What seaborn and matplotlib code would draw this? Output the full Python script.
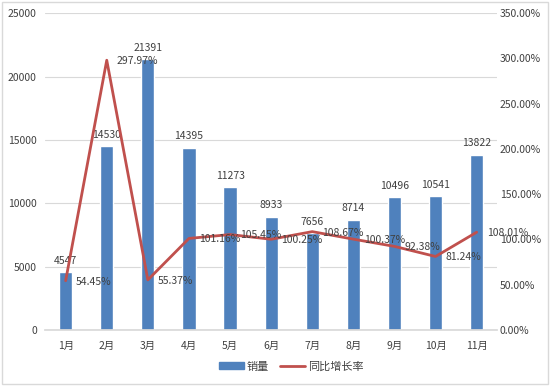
import seaborn as sns
import matplotlib.pyplot as plt
import matplotlib.patches as mpatches
import matplotlib.lines as mlines
from matplotlib.ticker import FuncFormatter
import numpy as np
import pandas as pd

# data
months = ["1月", "2月", "3月", "4月", "5月", "6月", "7月", "8月", "9月", "10月", "11月"]
sales = [4547, 14530, 21391, 14395, 11273, 8933, 7656, 8714, 10496, 10541, 13822]
growth = [54.45, 297.97, 55.37, 101.16, 105.45, 100.25, 108.67, 100.37, 92.38, 81.24, 108.01]

bar_color = "#4F81BD"
line_color = "#C0504D"

sns.set_theme(style="white")
plt.rcParams["font.family"] = ["Noto Sans CJK SC", "DejaVu Sans"]
plt.rcParams["font.size"] = 7.5

df = pd.DataFrame({"month": months, "sales": sales, "growth": growth})
df["pos"] = np.arange(len(df))

fig = plt.figure(figsize=(5.5, 3.86), dpi=100)
ax = fig.add_axes([0.082, 0.145, 0.822, 0.821])

sns.barplot(data=df, x="month", y="sales", color=bar_color, width=0.32,
            saturation=1, ax=ax)
ax.set_ylim(0, 25000)
ax.set_yticks(range(0, 25001, 5000))
ax.set_xlim(-0.5, len(months) - 0.5)
ax.set_xlabel("")
ax.set_ylabel("")
ax.yaxis.grid(True, color="#D9D9D9", linewidth=0.8)
ax.set_axisbelow(True)
for s in ["top", "left", "right"]:
    ax.spines[s].set_visible(False)
ax.spines["bottom"].set_color("#D9D9D9")
ax.tick_params(axis="y", length=0, labelsize=7.5, colors="#404040", pad=6)
ax.tick_params(axis="x", length=0, labelsize=7.5, colors="#404040", pad=8)

for i, v in enumerate(sales):
    ax.text(i, v + 500, str(v), ha="center", va="bottom", fontsize=7.5, color="#404040")

ax2 = ax.twinx()
sns.lineplot(data=df, x="pos", y="growth", color=line_color, linewidth=2, ax=ax2)
ax2.set_ylim(0, 350)
ax2.set_yticks(range(0, 351, 50))
ax2.yaxis.set_major_formatter(FuncFormatter(lambda v, p: f"{v:.2f}%"))
ax2.set_xlabel("")
ax2.set_ylabel("")
for s in ["top", "left", "right", "bottom"]:
    ax2.spines[s].set_visible(False)
ax2.tick_params(axis="y", length=0, labelsize=7.5, colors="#404040", pad=2)

for i, g in enumerate(growth):
    ax2.text(i + 0.25, g - 1, f"{g:.2f}%", ha="left", va="center", fontsize=7.5, color="#404040")

handles = [mpatches.Patch(color=bar_color, label="销量"),
           mlines.Line2D([], [], color=line_color, linewidth=2, label="同比增长率")]
fig.legend(handles=handles, loc="center", bbox_to_anchor=(0.53, 0.05), ncol=2,
           frameon=False, fontsize=8, handlelength=2.2, handleheight=0.6,
           columnspacing=1.0, handletextpad=0.3, labelcolor="#404040")

fig.patches.append(mpatches.Rectangle((0.004, 0.004), 0.992, 0.992, transform=fig.transFigure,
                                      fill=False, edgecolor="#D9D9D9", linewidth=1))

fig.savefig("out.png", dpi=100)
